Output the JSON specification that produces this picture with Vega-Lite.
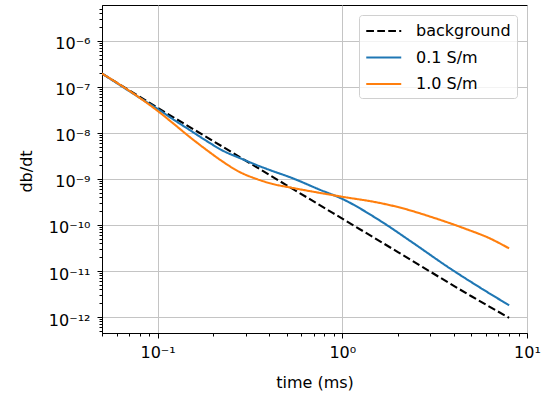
{
  "$schema": "https://vega.github.io/schema/vega-lite/v6.json",
  "autosize": "none",
  "width": 425,
  "height": 328,
  "padding": {"left": 102, "top": 5, "right": 24, "bottom": 64},
  "background": "white",
  "config": {
    "font": "DejaVu Sans",
    "view": {"stroke": "#000000", "strokeWidth": 1}
  },
  "data": {
    "values": [
      {"t": 0.05, "v": 1.95e-7, "s": "background"},
      {"t": 0.1, "v": 3.52e-8, "s": "background"},
      {"t": 0.2, "v": 6.64e-9, "s": "background"},
      {"t": 0.5, "v": 7.28e-10, "s": "background"},
      {"t": 1.0, "v": 1.37e-10, "s": "background"},
      {"t": 2.0, "v": 2.58e-11, "s": "background"},
      {"t": 5.0, "v": 2.83e-12, "s": "background"},
      {"t": 8.0, "v": 9.6e-13, "s": "background"},

      {"t": 0.05, "v": 1.95e-7, "s": "0.1 S/m"},
      {"t": 0.08, "v": 5.8e-8, "s": "0.1 S/m"},
      {"t": 0.1, "v": 3.32e-8, "s": "0.1 S/m"},
      {"t": 0.1205, "v": 2.01e-8, "s": "0.1 S/m"},
      {"t": 0.149, "v": 1.16e-8, "s": "0.1 S/m"},
      {"t": 0.184, "v": 6.7e-9, "s": "0.1 S/m"},
      {"t": 0.2245, "v": 4.15e-9, "s": "0.1 S/m"},
      {"t": 0.2775, "v": 2.86e-9, "s": "0.1 S/m"},
      {"t": 0.343, "v": 2.01e-9, "s": "0.1 S/m"},
      {"t": 0.418, "v": 1.49e-9, "s": "0.1 S/m"},
      {"t": 0.524, "v": 1.08e-9, "s": "0.1 S/m"},
      {"t": 0.75, "v": 5.9e-10, "s": "0.1 S/m"},
      {"t": 1.0, "v": 3.68e-10, "s": "0.1 S/m"},
      {"t": 1.6, "v": 1.24e-10, "s": "0.1 S/m"},
      {"t": 2.39, "v": 4.2e-11, "s": "0.1 S/m"},
      {"t": 3.79, "v": 1.17e-11, "s": "0.1 S/m"},
      {"t": 5.5, "v": 4.5e-12, "s": "0.1 S/m"},
      {"t": 8.0, "v": 1.8e-12, "s": "0.1 S/m"},

      {"t": 0.05, "v": 1.95e-7, "s": "1.0 S/m"},
      {"t": 0.08, "v": 5.77e-8, "s": "1.0 S/m"},
      {"t": 0.1, "v": 3.01e-8, "s": "1.0 S/m"},
      {"t": 0.1205, "v": 1.65e-8, "s": "1.0 S/m"},
      {"t": 0.149, "v": 8.2e-9, "s": "1.0 S/m"},
      {"t": 0.184, "v": 4.27e-9, "s": "1.0 S/m"},
      {"t": 0.2245, "v": 2.4e-9, "s": "1.0 S/m"},
      {"t": 0.2775, "v": 1.42e-9, "s": "1.0 S/m"},
      {"t": 0.343, "v": 1.0e-9, "s": "1.0 S/m"},
      {"t": 0.418, "v": 7.8e-10, "s": "1.0 S/m"},
      {"t": 0.524, "v": 6.5e-10, "s": "1.0 S/m"},
      {"t": 0.75, "v": 5.0e-10, "s": "1.0 S/m"},
      {"t": 1.0, "v": 4.1e-10, "s": "1.0 S/m"},
      {"t": 1.6, "v": 3.0e-10, "s": "1.0 S/m"},
      {"t": 2.0, "v": 2.45e-10, "s": "1.0 S/m"},
      {"t": 3.1, "v": 1.45e-10, "s": "1.0 S/m"},
      {"t": 4.7, "v": 8.1e-11, "s": "1.0 S/m"},
      {"t": 6.2, "v": 5.25e-11, "s": "1.0 S/m"},
      {"t": 8.0, "v": 3.1e-11, "s": "1.0 S/m"}
    ]
  },
  "mark": {"type": "line", "strokeWidth": 2.1, "clip": true, "interpolate": "monotone"},
  "encoding": {
    "x": {
      "field": "t",
      "type": "quantitative",
      "title": "time (ms)",
      "scale": {"type": "log", "domain": [0.05, 10], "nice": false},
      "axis": {
        "values": [0.05, 0.06, 0.07, 0.08, 0.09, 0.1, 0.2, 0.3, 0.4, 0.5, 0.6, 0.7, 0.8, 0.9, 1, 2, 3, 4, 5, 6, 7, 8, 9, 10],
        "labelExpr": "abs(datum.value / pow(10, round(log(datum.value)/LN10)) - 1) < 1e-6 ? '10' + replace(replace(replace(replace(''+round(log(datum.value)/LN10), '-', '⁻'), '0', '⁰'), '1', '¹'), '2', '²') : ''",
        "labelFontSize": 16,
        "labelColor": "#000000",
        "labelPadding": 6,
        "labelFlush": false,
        "labelOverlap": false,
        "titleFontSize": 16,
        "titleFontWeight": "normal",
        "titleColor": "#000000",
        "titleY": 49,
        "titleBaseline": "middle",
        "domainColor": "#000000",
        "tickColor": "#000000",
        "tickSize": {"condition": {"test": "abs(datum.value / pow(10, round(log(datum.value)/LN10)) - 1) < 1e-6", "value": 5}, "value": 3},
        "grid": true,
        "gridColor": "#c4c4c4",
        "gridWidth": 1,
        "gridOpacity": {"condition": {"test": "abs(datum.value / pow(10, round(log(datum.value)/LN10)) - 1) < 1e-6", "value": 1}, "value": 0}
      }
    },
    "y": {
      "field": "v",
      "type": "quantitative",
      "title": "db/dt",
      "scale": {"type": "log", "domain": [4.5e-13, 6e-6], "nice": false},
      "axis": {
        "values": [5e-13, 6e-13, 7e-13, 8e-13, 9e-13,
                   1e-12, 2e-12, 3e-12, 4e-12, 5e-12, 6e-12, 7e-12, 8e-12, 9e-12,
                   1e-11, 2e-11, 3e-11, 4e-11, 5e-11, 6e-11, 7e-11, 8e-11, 9e-11,
                   1e-10, 2e-10, 3e-10, 4e-10, 5e-10, 6e-10, 7e-10, 8e-10, 9e-10,
                   1e-9, 2e-9, 3e-9, 4e-9, 5e-9, 6e-9, 7e-9, 8e-9, 9e-9,
                   1e-8, 2e-8, 3e-8, 4e-8, 5e-8, 6e-8, 7e-8, 8e-8, 9e-8,
                   1e-7, 2e-7, 3e-7, 4e-7, 5e-7, 6e-7, 7e-7, 8e-7, 9e-7,
                   1e-6, 2e-6, 3e-6, 4e-6, 5e-6],
        "labelExpr": "abs(datum.value / pow(10, round(log(datum.value)/LN10)) - 1) < 1e-6 ? '10' + replace(replace(replace(replace(replace(replace(replace(replace(''+round(log(datum.value)/LN10), '-', '⁻'), regexp('1','g'), '¹'), '0', '⁰'), '2', '²'), '6', '⁶'), '7', '⁷'), '8', '⁸'), '9', '⁹') : ''",
        "labelFontSize": 16,
        "labelColor": "#000000",
        "labelPadding": 7,
        "labelOffset": 3,
        "labelFlush": false,
        "labelOverlap": false,
        "titleFontSize": 16,
        "titleFontWeight": "normal",
        "titleColor": "#000000",
        "titleX": -76,
        "titleY": 166,
        "titleBaseline": "middle",
        "titleAlign": "center",
        "domainColor": "#000000",
        "tickColor": "#000000",
        "tickSize": {"condition": {"test": "abs(datum.value / pow(10, round(log(datum.value)/LN10)) - 1) < 1e-6", "value": 5}, "value": 3},
        "grid": true,
        "gridColor": "#c4c4c4",
        "gridWidth": 1,
        "gridOpacity": {"condition": {"test": "abs(datum.value / pow(10, round(log(datum.value)/LN10)) - 1) < 1e-6", "value": 1}, "value": 0}
      }
    },
    "color": {
      "field": "s",
      "type": "nominal",
      "title": null,
      "scale": {"domain": ["background", "0.1 S/m", "1.0 S/m"], "range": ["#000000", "#1f77b4", "#ff7f0e"]},
      "legend": {
        "orient": "top-right",
        "offset": 10,
        "padding": 6,
        "rowPadding": 8.5,
        "labelFontSize": 16,
        "labelColor": "#000000",
        "labelOffset": 31,
        "symbolType": "M-1,0H3",
        "symbolSize": 306,
        "symbolStrokeWidth": 2.1,
        "fillColor": "rgba(255,255,255,0.8)",
        "strokeColor": "#d0d0d0",
        "cornerRadius": 3
      }
    },
    "strokeDash": {
      "field": "s",
      "type": "nominal",
      "title": null,
      "scale": {"domain": ["background", "0.1 S/m", "1.0 S/m"], "range": [[7.7, 3.3], [1, 0], [1, 0]]}
    }
  }
}
